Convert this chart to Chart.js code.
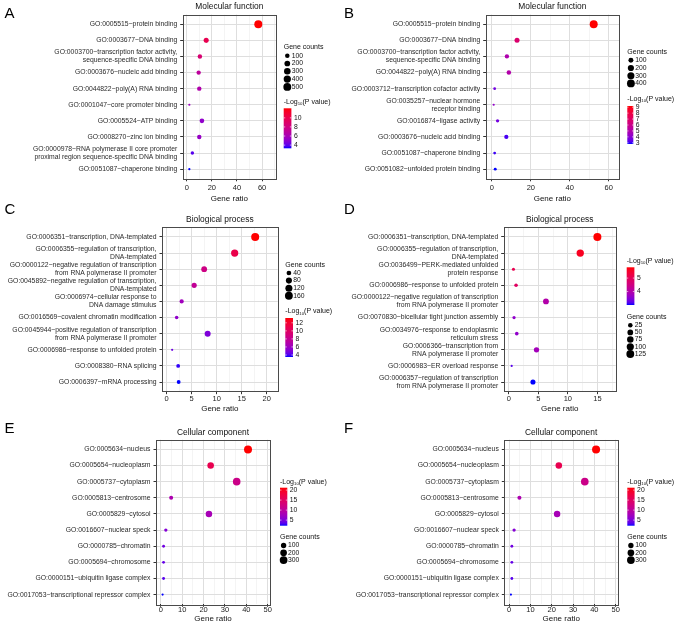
<!DOCTYPE html>
<html>
<head>
<meta charset="utf-8">
<script src="https://cdn.jsdelivr.net/npm/chart.js@4.4.1/dist/chart.umd.min.js"></script>
<style>
  html, body { margin: 0; padding: 0; background: #fff; }
  #wrap { position: relative; width: 677px; height: 626px; overflow: hidden; }
  #wrap canvas { position: absolute; left: 0; top: 0; }
  .lab { position: absolute; font: 15px/15px "Liberation Sans", Arial, sans-serif; color: #000; }
</style>
</head>
<body>
<div id="wrap">
  <canvas id="cA" width="677" height="626"></canvas>
  <canvas id="cB" width="677" height="626"></canvas>
  <canvas id="cC" width="677" height="626"></canvas>
  <canvas id="cD" width="677" height="626"></canvas>
  <canvas id="cE" width="677" height="626"></canvas>
  <canvas id="cF" width="677" height="626"></canvas>
  <div class="lab" style="left:4.5px;top:5.3px">A</div>
  <div class="lab" style="left:344px;top:5.3px">B</div>
  <div class="lab" style="left:4.5px;top:201px">C</div>
  <div class="lab" style="left:344px;top:201px">D</div>
  <div class="lab" style="left:4.5px;top:419.7px">E</div>
  <div class="lab" style="left:344px;top:419.7px">F</div>
</div>
<script>
// ---------- A: molecular function ----------
const termsA = [
  'GO:0005515~protein binding',
  'GO:0003677~DNA binding',
  ['GO:0003700~transcription factor activity,', 'sequence-specific DNA binding'],
  'GO:0003676~nucleic acid binding',
  'GO:0044822~poly(A) RNA binding',
  'GO:0001047~core promoter binding',
  'GO:0005524~ATP binding',
  'GO:0008270~zinc ion binding',
  ['GO:0000978~RNA polymerase II core promoter', 'proximal region sequence-specific DNA binding'],
  'GO:0051087~chaperone binding'
];
const ratioA = [57.0, 15.5, 10.5, 9.5, 10.0, 2.1, 12.1, 10.0, 4.5, 2.1];
const countA = [515, 140, 95, 86, 90, 19, 109, 90, 41, 19];
const logpA = [12.1, 9.9, 8.6, 7.0, 6.4, 5.6, 5.2, 5.4, 3.9, 3.3];
const xTicksA = [0, 20, 40, 60];
const countTicksA = [100, 200, 300, 400, 500];
const logpTicksA = [4, 6, 8, 10];

// ---------- B: molecular function ----------
const termsB = [
  'GO:0005515~protein binding',
  'GO:0003677~DNA binding',
  ['GO:0003700~transcription factor activity,', 'sequence-specific DNA binding'],
  'GO:0044822~poly(A) RNA binding',
  'GO:0003712~transcription cofactor activity',
  ['GO:0035257~nuclear hormone', 'receptor binding'],
  'GO:0016874~ligase activity',
  'GO:0003676~nucleic acid binding',
  'GO:0051087~chaperone binding',
  'GO:0051082~unfolded protein binding'
];
const ratioB = [52.3, 12.9, 7.7, 8.7, 1.4, 0.9, 2.9, 7.4, 1.4, 1.7];
const countB = [420, 104, 62, 70, 11, 7, 23, 59, 11, 14];
const logpB = [9.2, 6.8, 5.0, 5.1, 3.6, 4.2, 3.6, 3.1, 3.0, 2.8];
const xTicksB = [0, 20, 40, 60];
const countTicksB = [100, 200, 300, 400];
const logpTicksB = [3, 4, 5, 6, 7, 8, 9];

// ---------- C: biological process ----------
const termsC = [
  'GO:0006351~transcription, DNA-templated',
  ['GO:0006355~regulation of transcription,', 'DNA-templated'],
  ['GO:0000122~negative regulation of transcription', 'from RNA polymerase II promoter'],
  ['GO:0045892~negative regulation of transcription,', 'DNA-templated'],
  ['GO:0006974~cellular response to', 'DNA damage stimulus'],
  'GO:0016569~covalent chromatin modification',
  ['GO:0045944~positive regulation of transcription', 'from RNA polymerase II promoter'],
  'GO:0006986~response to unfolded protein',
  'GO:0008380~RNA splicing',
  'GO:0006397~mRNA processing'
];
const ratioC = [17.7, 13.6, 7.5, 5.5, 3.0, 2.0, 8.2, 1.1, 2.3, 2.4];
const countC = [168, 129, 71, 52, 29, 19, 78, 10, 22, 23];
const logpC = [13.2, 11.0, 8.6, 7.8, 6.2, 5.6, 5.0, 4.6, 3.7, 3.5];
const xTicksC = [0, 5, 10, 15, 20];
const countTicksC = [40, 80, 120, 160];
const logpTicksC = [4, 6, 8, 10, 12];

// ---------- D: biological process ----------
const termsD = [
  'GO:0006351~transcription, DNA-templated',
  ['GO:0006355~regulation of transcription,', 'DNA-templated'],
  ['GO:0036499~PERK-mediated unfolded', 'protein response'],
  'GO:0006986~response to unfolded protein',
  ['GO:0000122~negative regulation of transcription', 'from RNA polymerase II promoter'],
  'GO:0070830~bicellular tight junction assembly',
  ['GO:0034976~response to endoplasmic', 'reticulum stress'],
  ['GO:0006366~transcription from', 'RNA polymerase II promoter'],
  'GO:0006983~ER overload response',
  ['GO:0006357~regulation of transcription', 'from RNA polymerase II promoter']
];
const ratioD = [15.0, 12.1, 0.8, 1.24, 6.3, 0.9, 1.36, 4.7, 0.5, 4.1];
const countD = [132, 106, 7, 11, 55, 8, 12, 41, 4, 36];
const logpD = [5.8, 5.6, 5.1, 4.9, 4.0, 3.6, 3.6, 3.8, 3.2, 3.0];
const xTicksD = [0, 5, 10, 15];
const countTicksD = [25, 50, 75, 100, 125];
const logpTicksD = [4, 5];

// ---------- E / F: cellular component ----------
const termsE = [
  'GO:0005634~nucleus',
  'GO:0005654~nucleoplasm',
  'GO:0005737~cytoplasm',
  'GO:0005813~centrosome',
  'GO:0005829~cytosol',
  'GO:0016607~nuclear speck',
  'GO:0000785~chromatin',
  'GO:0005694~chromosome',
  'GO:0000151~ubiquitin ligase complex',
  'GO:0017053~transcriptional repressor complex'
];
const ratioE = [40.8, 23.3, 35.5, 4.8, 22.5, 2.3, 1.25, 1.25, 1.25, 0.8];
const countE = [326, 186, 284, 38, 180, 18, 10, 10, 10, 6];
const logpE = [21.2, 16.5, 11.8, 8.5, 8.0, 5.5, 4.5, 4.0, 3.5, 2.2];
const xTicksE = [0, 10, 20, 30, 40, 50];
const countTicksE = [100, 200, 300];
const logpTicksE = [5, 10, 15, 20];

const ratioF = [40.8, 23.3, 35.5, 4.8, 22.5, 2.3, 1.25, 1.25, 1.25, 0.8];
const countF = [326, 186, 284, 38, 180, 18, 10, 10, 10, 6];
const logpF = [21.2, 16.5, 11.8, 8.5, 8.0, 5.5, 4.5, 4.0, 3.5, 2.2];

// ---------- helpers ----------
const W = 677, H = 626;
const FAM = '"Liberation Sans", Arial, Helvetica, sans-serif';
const fnt = s => s + 'px ' + FAM;

// blue -> red in Lab space (like ggplot's scale_colour_gradient)
function toLin(c) { c /= 255; return c <= 0.04045 ? c / 12.92 : Math.pow((c + 0.055) / 1.055, 2.4); }
function toSrgb(c) { c = c <= 0.0031308 ? 12.92 * c : 1.055 * Math.pow(c, 1 / 2.4) - 0.055; return Math.round(Math.max(0, Math.min(1, c)) * 255); }
const f3 = t => t > 0.008856 ? Math.cbrt(t) : 7.787 * t + 16 / 116;
const f3inv = t => t > 0.206893 ? t * t * t : (t - 16 / 116) / 7.787;
function hexToLab(h) {
  const r = toLin(parseInt(h.slice(1, 3), 16)), g = toLin(parseInt(h.slice(3, 5), 16)), b = toLin(parseInt(h.slice(5, 7), 16));
  const x = (0.4124 * r + 0.3576 * g + 0.1805 * b) / 0.95047;
  const y = 0.2126 * r + 0.7152 * g + 0.0722 * b;
  const z = (0.0193 * r + 0.1192 * g + 0.9505 * b) / 1.08883;
  return [116 * f3(y) - 16, 500 * (f3(x) - f3(y)), 200 * (f3(y) - f3(z))];
}
function labToCss(lab) {
  const fy = (lab[0] + 16) / 116, fx = fy + lab[1] / 500, fz = fy - lab[2] / 200;
  const x = f3inv(fx) * 0.95047, y = f3inv(fy), z = f3inv(fz) * 1.08883;
  const r = 3.2406 * x - 1.5372 * y - 0.4986 * z;
  const g = -0.9689 * x + 1.8758 * y + 0.0415 * z;
  const b = 0.0557 * x - 0.2040 * y + 1.0570 * z;
  return 'rgb(' + toSrgb(r) + ',' + toSrgb(g) + ',' + toSrgb(b) + ')';
}
const LOW = hexToLab('#0000ff'), HIGH = hexToLab('#ff0000');
const ramp = t => { t = Math.max(0, Math.min(1, t)); return labToCss(LOW.map((v, i) => v + (HIGH[i] - v) * t)); };

function logTitle(ctx, x, y) {
  ctx.font = fnt(7); ctx.fillText('-Log', x, y);
  let w = ctx.measureText('-Log').width;
  ctx.font = fnt(4.3); ctx.fillText('10', x + w, y + 2);
  w += ctx.measureText('10').width;
  ctx.font = fnt(7); ctx.fillText('(P value)', x + w, y);
}

function makePanel(id, d, lay) {
  const n = d.terms.length;
  const cMin = Math.min(...d.counts), cMax = Math.max(...d.counts);
  const pMin = Math.min(...d.logp), pMax = Math.max(...d.logp);
  const rad = c => 1.1 + 2.9 * Math.sqrt(Math.max(0, (c - cMin) / (cMax - cMin)));
  const pcol = v => ramp((v - pMin) / (pMax - pMin));

  const step = d.xTicks[1] - d.xTicks[0];
  const xs = [];
  for (let v = d.xTicks[0] - step / 2; v <= lay.xMax; v += step / 2) if (v >= lay.xMin) xs.push(+v.toFixed(6));
  const isMajor = v => d.xTicks.some(t => Math.abs(t - v) < 1e-6);

  const xh = lay.titleY - lay.B + 4.8;
  const leg = lay.leg;

  const framePlugin = {
    id: 'frame' + id,
    afterDraw(chart) {
      const ctx = chart.ctx, a = chart.chartArea;
      ctx.save();
      ctx.strokeStyle = '#4a4a4a'; ctx.lineWidth = 1;
      ctx.strokeRect(Math.round(a.left) + 0.5, Math.round(a.top) + 0.5, Math.round(a.right - a.left), Math.round(a.bottom - a.top));

      ctx.fillStyle = '#111'; ctx.font = fnt(8.4);
      ctx.textAlign = 'center'; ctx.textBaseline = 'middle';
      ctx.fillText(d.title, (a.left + a.right) / 2, a.top - 7.5);

      ctx.textAlign = 'left';
      // gene counts legend
      ctx.font = fnt(7); ctx.fillStyle = '#111';
      ctx.fillText('Gene counts', leg.x, leg.sizeTitleY);
      d.countTicks.forEach((c, k) => {
        const y = leg.sizeY0 + k * leg.sizeStep;
        ctx.beginPath(); ctx.arc(leg.x + 3.6, y, rad(c), 0, 2 * Math.PI);
        ctx.fillStyle = '#000'; ctx.fill();
        ctx.font = fnt(6.8); ctx.fillStyle = '#111';
        ctx.fillText(String(c), leg.x + 8, y);
      });
      // colour bar legend
      ctx.fillStyle = '#111';
      logTitle(ctx, leg.x, leg.colTitleY);
      const g = ctx.createLinearGradient(0, leg.barBot, 0, leg.barTop);
      for (let i = 0; i <= 20; i++) g.addColorStop(i / 20, ramp(i / 20));
      ctx.fillStyle = g;
      ctx.fillRect(leg.x, leg.barTop, leg.barW, leg.barBot - leg.barTop);
      ctx.font = fnt(6.8);
      d.logpTicks.forEach(v => {
        const y = leg.barBot - (v - pMin) / (pMax - pMin) * (leg.barBot - leg.barTop);
        ctx.strokeStyle = '#fff'; ctx.lineWidth = 0.6;
        ctx.beginPath();
        ctx.moveTo(leg.x, y); ctx.lineTo(leg.x + leg.barW * 0.2, y);
        ctx.moveTo(leg.x + leg.barW * 0.8, y); ctx.lineTo(leg.x + leg.barW, y);
        ctx.stroke();
        ctx.fillStyle = '#111';
        ctx.fillText(String(v), leg.x + leg.barW + 2.5, y);
      });
      ctx.restore();
    }
  };

  new Chart(document.getElementById(id), {
    type: 'bubble',
    data: {
      datasets: [{
        data: d.ratio.map((r, i) => ({ x: r, y: i, r: rad(d.counts[i]) })),
        backgroundColor: d.logp.map(pcol),
        borderWidth: 0,
        hoverRadius: 0
      }]
    },
    options: {
      responsive: false,
      animation: false,
      devicePixelRatio: 1,
      events: [],
      layout: { padding: { left: 0, top: lay.T, right: W - lay.R, bottom: H - lay.B - xh } },
      plugins: { legend: { display: false }, tooltip: { enabled: false } },
      scales: {
        x: {
          type: 'linear', min: lay.xMin, max: lay.xMax,
          afterBuildTicks: s => { s.ticks = xs.map(v => ({ value: v })); },
          afterFit: s => { s.height = xh; },
          border: { display: false },
          grid: {
            color: c => isMajor(c.tick.value) ? '#dedede' : '#ececec',
            lineWidth: c => isMajor(c.tick.value) ? 1 : 0.6,
            tickColor: c => isMajor(c.tick.value) ? '#333' : 'rgba(0,0,0,0)',
            tickLength: 2.5
          },
          ticks: {
            autoSkip: false, maxRotation: 0, minRotation: 0,
            padding: lay.tickY - lay.B - 2.5 - 4.5,
            color: '#222', font: { family: FAM, size: 7.5, lineHeight: 1.2 },
            callback: v => isMajor(v) ? String(Math.round(v)) : ''
          },
          title: { display: true, text: 'Gene ratio', color: '#111', padding: 0, font: { family: FAM, size: 8, lineHeight: 1.2 } }
        },
        y: {
          type: 'linear', reverse: true, min: -0.6, max: n - 0.4,
          afterBuildTicks: s => { s.ticks = d.terms.map((t, i) => ({ value: i })); },
          afterFit: s => { s.width = lay.L; },
          border: { display: false },
          grid: { color: '#dedede', lineWidth: 1, tickColor: '#333', tickLength: 2.5 },
          ticks: {
            autoSkip: false, padding: 3, color: '#2a2a2a',
            font: { family: FAM, size: 6.8, lineHeight: 1.18 },
            callback: v => d.terms[v]
          }
        }
      }
    },
    plugins: [framePlugin]
  });
}

makePanel('cA',
  { title: 'Molecular function', terms: termsA, ratio: ratioA, counts: countA, logp: logpA, xTicks: xTicksA, countTicks: countTicksA, logpTicks: logpTicksA },
  { L: 182.7, T: 14.6, R: 276, B: 178.8, xMin: -3.2, xMax: 71.1, tickY: 187.8, titleY: 198.3,
    leg: { x: 283.7, sizeTitleY: 47.3, sizeY0: 55.7, sizeStep: 7.8, colTitleY: 102.3, barTop: 108.3, barBot: 148.3, barW: 7.7 } });

makePanel('cB',
  { title: 'Molecular function', terms: termsB, ratio: ratioB, counts: countB, logp: logpB, xTicks: xTicksB, countTicks: countTicksB, logpTicks: logpTicksB },
  { L: 485.7, T: 14.6, R: 619, B: 178.8, xMin: -3.2, xMax: 65.3, tickY: 187.8, titleY: 198.3,
    leg: { x: 627.3, sizeTitleY: 51.7, sizeY0: 60.3, sizeStep: 7.7, colTitleY: 98.7, barTop: 106, barBot: 144, barW: 6 } });

makePanel('cC',
  { title: 'Biological process', terms: termsC, ratio: ratioC, counts: countC, logp: logpC, xTicks: xTicksC, countTicks: countTicksC, logpTicks: logpTicksC },
  { L: 162, T: 227.3, R: 277.7, B: 391.7, xMin: -0.93, xMax: 22.2, tickY: 398.5, titleY: 409,
    leg: { x: 285.3, sizeTitleY: 265, sizeY0: 273, sizeStep: 7.6, colTitleY: 311.5, barTop: 318, barBot: 357, barW: 7.7 } });

makePanel('cD',
  { title: 'Biological process', terms: termsD, ratio: ratioD, counts: countD, logp: logpD, xTicks: xTicksD, countTicks: countTicksD, logpTicks: logpTicksD },
  { L: 503.7, T: 227.3, R: 615.7, B: 391.7, xMin: -0.85, xMax: 18.1, tickY: 398.5, titleY: 409,
    leg: { x: 626.7, colTitleY: 261, barTop: 267.3, barBot: 305, barW: 7.7, sizeTitleY: 317, sizeY0: 325.2, sizeStep: 7.2 } });

makePanel('cE',
  { title: 'Cellular component', terms: termsE, ratio: ratioE, counts: countE, logp: logpE, xTicks: xTicksE, countTicks: countTicksE, logpTicks: logpTicksE },
  { L: 156, T: 439.7, R: 270, B: 604.3, xMin: -2.3, xMax: 51.1, tickY: 609.5, titleY: 618.8,
    leg: { x: 280, colTitleY: 481.7, barTop: 487.7, barBot: 525.7, barW: 7.3, sizeTitleY: 537.5, sizeY0: 545.5, sizeStep: 7.3 } });

makePanel('cF',
  { title: 'Cellular component', terms: termsE, ratio: ratioF, counts: countF, logp: logpF, xTicks: xTicksE, countTicks: countTicksE, logpTicks: logpTicksE },
  { L: 504.3, T: 439.7, R: 618, B: 604.3, xMin: -2.3, xMax: 51.1, tickY: 609.5, titleY: 618.8,
    leg: { x: 627.3, colTitleY: 481.7, barTop: 487.7, barBot: 525.7, barW: 7.3, sizeTitleY: 537.5, sizeY0: 545.5, sizeStep: 7.3 } });
</script>
</body>
</html>
